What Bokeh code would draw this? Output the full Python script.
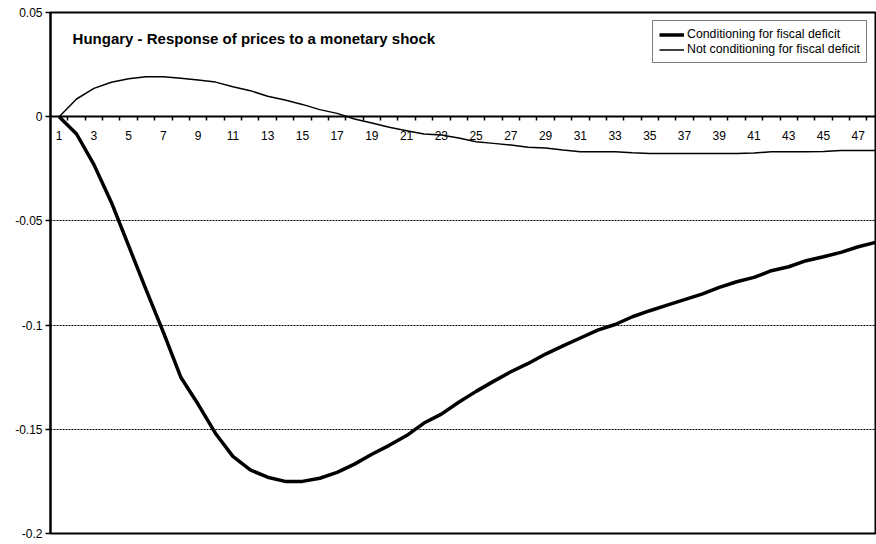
from bokeh.plotting import figure
from bokeh.models import Range1d, FixedTicker, Legend, LegendItem, Label
from bokeh.embed import file_html
from bokeh.resources import INLINE

periods = list(range(1, 49))

conditioning = [
    0.0, -0.0083, -0.023, -0.041, -0.062, -0.083, -0.1035, -0.125, -0.138, -0.152,
    -0.163, -0.1695, -0.173, -0.175, -0.175, -0.1735, -0.1707, -0.1667, -0.162, -0.1577,
    -0.153, -0.147, -0.1427, -0.137, -0.1318, -0.127, -0.1224, -0.1184, -0.1139, -0.110,
    -0.1062, -0.1024, -0.0997, -0.096, -0.0931, -0.0904, -0.0878, -0.0851, -0.0819, -0.0792,
    -0.0771, -0.0739, -0.072, -0.0691, -0.0672, -0.0651, -0.0624, -0.0603,
]

not_conditioning = [
    0.0, 0.0085, 0.0136, 0.0165, 0.0182, 0.0192, 0.0192, 0.0184, 0.0176, 0.0166,
    0.0144, 0.0125, 0.0098, 0.008, 0.0059, 0.0034, 0.0016, -0.0011, -0.003, -0.0051,
    -0.0067, -0.0083, -0.0088, -0.0102, -0.012, -0.0128, -0.0136, -0.0147, -0.015, -0.016,
    -0.0168, -0.0168, -0.0168, -0.0173, -0.0176, -0.0176, -0.0176, -0.0176, -0.0176, -0.0176,
    -0.0174, -0.0168, -0.0168, -0.0168, -0.0167, -0.0162, -0.0162, -0.0162,
]

y_ticks = [-0.2, -0.15, -0.1, -0.05, 0.0, 0.05]
y_tick_labels = ["-0.2", "-0.15", "-0.1", "-0.05", "0", "0.05"]
x_label_ticks = list(range(1, 49, 2))
x_boundaries = [i + 0.5 for i in range(1, 48)]

title_text = "Hungary - Response of prices to a monetary shock"
series_names = ["Conditioning for fiscal deficit", "Not conditioning for fiscal deficit"]

FONT = "Liberation Sans"

p = figure(width=876, height=544, output_backend="svg", toolbar_location=None,
           x_range=Range1d(0.5, 48.05), y_range=Range1d(-0.2, 0.05),
           min_border_left=50, min_border_right=0, min_border_top=12, min_border_bottom=11)
p.background_fill_color = "white"
p.border_fill_color = "white"
p.outline_line_color = "black"
p.outline_line_width = 2

# y axis
p.yaxis.ticker = FixedTicker(ticks=y_ticks)
p.yaxis.major_label_overrides = {t: l for t, l in zip(y_ticks, y_tick_labels)}
p.yaxis.axis_line_width = 2
p.yaxis.axis_line_color = "black"
p.yaxis.major_tick_out = 5
p.yaxis.major_tick_in = 0
p.yaxis.major_tick_line_width = 1.5
p.yaxis.minor_tick_line_color = None
p.yaxis.major_label_standoff = 3
p.yaxis.major_label_text_font = FONT
p.yaxis.major_label_text_font_size = "12px"
p.yaxis.major_label_text_color = "black"

# x axis crossing at zero
p.xaxis.fixed_location = 0
p.xaxis.ticker = FixedTicker(ticks=x_label_ticks, minor_ticks=x_boundaries)
p.xaxis.axis_line_width = 2
p.xaxis.axis_line_color = "black"
p.xaxis.major_tick_line_color = None
p.xaxis.major_tick_out = 0
p.xaxis.major_tick_in = 0
p.xaxis.minor_tick_out = 4
p.xaxis.minor_tick_in = 0
p.xaxis.minor_tick_line_width = 1.5
p.xaxis.minor_tick_line_color = "black"
p.xaxis.major_label_standoff = 10
p.xaxis.major_label_text_font = FONT
p.xaxis.major_label_text_font_size = "12px"
p.xaxis.major_label_text_color = "black"

# grid
p.xgrid.grid_line_color = None
p.ygrid.ticker = FixedTicker(ticks=[-0.15, -0.1, -0.05])
p.ygrid.grid_line_color = "black"
p.ygrid.grid_line_width = 1
p.ygrid.grid_line_dash = "2 1"

r1 = p.line(periods, conditioning, line_color="black", line_width=3.5)
r2 = p.line(periods, not_conditioning, line_color="black", line_width=1.5)

title = Label(x=1.77, y=0.0374, text=title_text, text_font=FONT, text_font_size="15px",
              text_font_style="bold", text_color="black", text_baseline="alphabetic")
p.add_layout(title)

legend = Legend(items=[LegendItem(label=series_names[0], renderers=[r1]),
                       LegendItem(label=series_names[1], renderers=[r2])],
                location=(602, 470), orientation="vertical")
legend.label_text_font = FONT
legend.label_text_font_size = "12.3px"
legend.label_text_color = "black"
legend.border_line_color = "black"
legend.border_line_width = 1.5
legend.background_fill_color = "white"
legend.background_fill_alpha = 1
legend.padding = 6
legend.margin = 0
legend.spacing = 1
legend.glyph_width = 25
legend.glyph_height = 13
legend.label_height = 13
legend.label_standoff = 3
p.add_layout(legend, "center")

open("out.html", "w").write(file_html(p, INLINE))
